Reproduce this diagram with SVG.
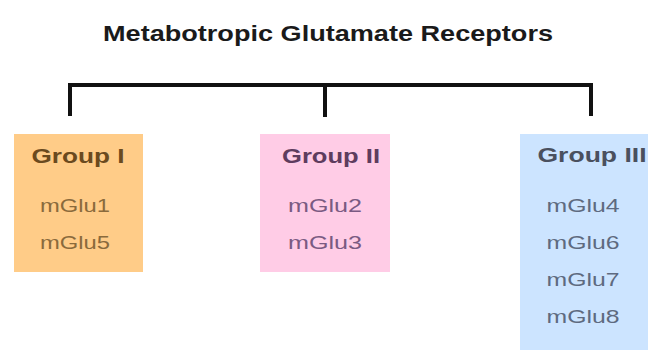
<svg xmlns="http://www.w3.org/2000/svg" width="648" height="350" viewBox="0 0 648 350">
  <style>
    .title { font-family: "Liberation Sans", Arial, sans-serif; font-weight: bold; font-size: 22px; fill: #1a1a1a; }
    .head { font-family: "Liberation Sans", Arial, sans-serif; font-weight: bold; font-size: 20px; }
    .item { font-family: "Liberation Sans", Arial, sans-serif; font-size: 19px; }
    .wire { fill: none; stroke: #111; stroke-width: 4; stroke-linecap: butt; }
  </style>
  <rect width="648" height="350" fill="#ffffff"/>

  <text class="title" x="328" y="41" text-anchor="middle" textLength="450" lengthAdjust="spacingAndGlyphs">Metabotropic Glutamate Receptors</text>

  <!-- bracket joining the three groups -->
  <g id="connectors">
    <path class="wire" d="M70,116 V85 H591 V116"/>
    <path class="wire" d="M325,85 V117"/>
  </g>

  <g id="group1">
    <rect x="14" y="134" width="129" height="138" fill="#ffcc88"/>
    <text class="head" x="78" y="163" text-anchor="middle" fill="#6b4a1e" textLength="93" lengthAdjust="spacingAndGlyphs">Group I</text>
    <text class="item" x="75" y="212" text-anchor="middle" fill="#8a6a3c" textLength="70" lengthAdjust="spacingAndGlyphs">mGlu1</text>
    <text class="item" x="75" y="249" text-anchor="middle" fill="#8a6a3c" textLength="70" lengthAdjust="spacingAndGlyphs">mGlu5</text>
  </g>

  <g id="group2">
    <rect x="260" y="134" width="130" height="138" fill="#ffcce6"/>
    <text class="head" x="331" y="163" text-anchor="middle" fill="#5e3c5e" textLength="98" lengthAdjust="spacingAndGlyphs">Group II</text>
    <text class="item" x="325" y="212" text-anchor="middle" fill="#7a5a82" textLength="74" lengthAdjust="spacingAndGlyphs">mGlu2</text>
    <text class="item" x="325" y="249" text-anchor="middle" fill="#7a5a82" textLength="74" lengthAdjust="spacingAndGlyphs">mGlu3</text>
  </g>

  <g id="group3">
    <rect x="520" y="134" width="140" height="230" fill="#cce4ff"/>
    <text class="head" x="592" y="162" text-anchor="middle" fill="#4a505e" textLength="109" lengthAdjust="spacingAndGlyphs">Group III</text>
    <text class="item" x="583" y="212" text-anchor="middle" fill="#5e6a80" textLength="73" lengthAdjust="spacingAndGlyphs">mGlu4</text>
    <text class="item" x="583" y="249" text-anchor="middle" fill="#5e6a80" textLength="73" lengthAdjust="spacingAndGlyphs">mGlu6</text>
    <text class="item" x="583" y="286" text-anchor="middle" fill="#5e6a80" textLength="73" lengthAdjust="spacingAndGlyphs">mGlu7</text>
    <text class="item" x="583" y="323" text-anchor="middle" fill="#5e6a80" textLength="73" lengthAdjust="spacingAndGlyphs">mGlu8</text>
  </g>
</svg>
